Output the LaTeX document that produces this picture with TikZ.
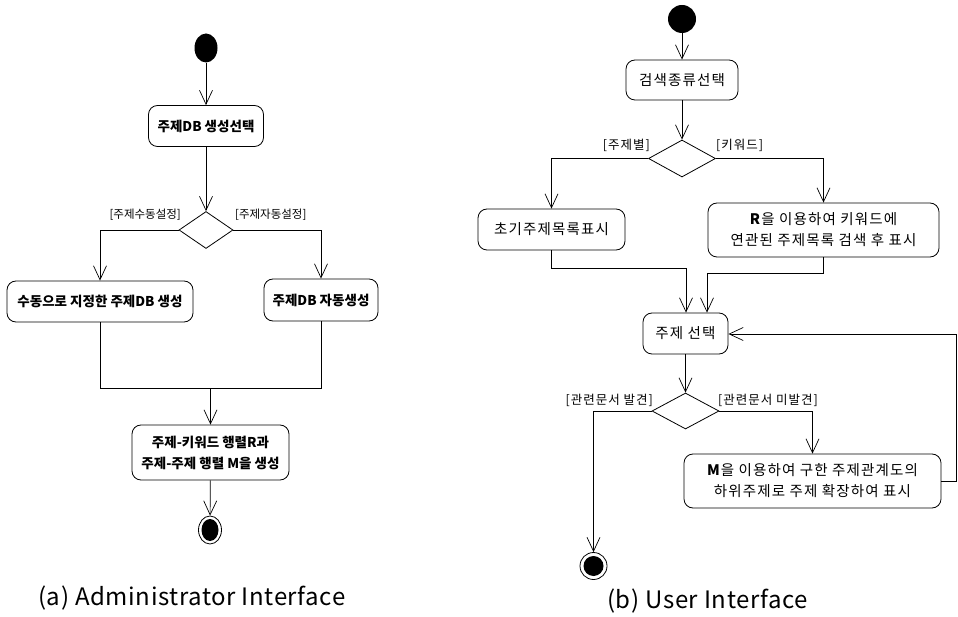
\documentclass[tikz,border=0pt]{standalone}
\usepackage{fontspec}
\setmainfont{Noto Sans CJK KR}
\newfontfamily\krwide{Noto Sans CJK KR}[LetterSpace=8]
\newfontfamily\capfont{Noto Sans CJK KR}[LetterSpace=2.5]
\usetikzlibrary{arrows.meta,shapes.geometric}

\begin{document}
\begin{tikzpicture}[x=1pt,y=-1pt,
  act/.style={draw, line width=0.8pt, rounded corners=9pt, align=center, inner sep=0pt},
  actA/.style={act, font=\bfseries\fontsize{13.5}{21}\selectfont},
  actB/.style={act, font=\krwide\fontsize{14.5}{21}\selectfont},
  startnode/.style={fill=black, inner sep=0pt},
  endring/.style={draw, line width=0.8pt, fill=white, inner sep=0pt},
  endcore/.style={fill=black, inner sep=0pt},
  decision/.style={draw, line width=0.8pt, diamond, inner sep=0pt},
  flow/.style={draw, line width=0.7pt, -{Straight Barb[length=14pt,width=13pt,line width=0.7pt]}},
  joinline/.style={draw, line width=0.7pt},
  guardA/.style={font=\fontsize{11.5}{13}\selectfont, inner sep=0pt},
  guardB/.style={font=\krwide\fontsize{12.5}{14}\selectfont, inner sep=0pt},
  caption/.style={font=\capfont\fontsize{24}{26}\selectfont, inner sep=0pt}
]
\useasboundingbox (0,0) rectangle (958,617);

% ---------- (a) administrator flow ----------
\node[startnode, ellipse, minimum width=23, minimum height=29] (a0) at (206,48) {};
\node[actA, minimum width=115, minimum height=41] (a1) at (206,126) {주제DB 생성선택};
\node[decision, minimum width=54, minimum height=37] (ad) at (206,230) {};
\node[actA, minimum width=186, minimum height=41] (a2) at (100,301.5) {수동으로 지정한 주제DB 생성};
\node[actA, minimum width=114, minimum height=42] (a3) at (321,300) {주제DB 자동생성};
\node[actA, minimum width=157, minimum height=55] (a4) at (210.5,452.5) {주제-키워드 행렬R과\\주제-주제 행렬 M을 생성};
\node[endring, ellipse, minimum width=23, minimum height=28] (ae) at (210,530) {};
\node[endcore, ellipse, minimum width=17, minimum height=22] (ae-core) at (ae.center) {};

\node[guardA, anchor=base east] (ga1) at (181,219) {[주제수동설정]};
\node[guardA, anchor=base west] (ga2) at (235,219) {[주제자동설정]};

\draw[flow] (a0) -- (a1);
\draw[flow] (a1) -- (ad);
\draw[flow] (ad.west) -| (a2.north);
\draw[flow] (ad.east) -| (a3.north);
\coordinate (aj) at (210.5,388);
\draw[joinline] (a2.south) |- (a3.south |- aj) -- (a3.south);
\draw[flow] (aj) -- (a4.north);
\draw[flow] (a4) -- (ae);

\node[caption, anchor=base west] (capa) at (38,605) {(a) Administrator Interface};

% ---------- (b) user flow ----------
\node[startnode, circle, minimum size=28] (b0) at (682,19) {};
\node[actB, minimum width=112, minimum height=40] (b1) at (682,80) {검색종류선택};
\node[decision, minimum width=67, minimum height=37] (bd) at (682,158.5) {};
\node[actB, minimum width=147, minimum height=41] (b2) at (551.5,229.5) {초기주제목록표시};
\node[actB, minimum width=231, minimum height=54] (b3) at (823.5,230) {\textbf{R}을 이용하여 키워드에\\연관된 주제목록 검색 후 표시};
\node[actB, minimum width=85, minimum height=41] (b4) at (685.5,333.5) {주제 선택};
\node[decision, minimum width=67, minimum height=36] (bd2) at (685.5,411) {};
\node[actB, minimum width=257, minimum height=54] (b5) at (812.5,481) {\textbf{M}을 이용하여 구한 주제관계도의\\하위주제로 주제 확장하여 표시};
\node[endring, circle, minimum size=27] (be) at (593.5,566) {};
\node[endcore, circle, minimum size=20] (be-core) at (be.center) {};

\node[guardB, anchor=base east] (gb1) at (650,150) {[주제별]};
\node[guardB, anchor=base west] (gb2) at (716,150) {[키워드]};
\node[guardB, anchor=base east] (gb3) at (653,404) {[관련문서 발견]};
\node[guardB, anchor=base west] (gb4) at (718,404) {[관련문서 미발견]};

\draw[flow] (b0) -- (b1);
\draw[flow] (b1) -- (bd);
\draw[flow] (bd.west) -| (b2.north);
\draw[flow] (bd.east) -| (b3.north);
\coordinate (bj1) at (686,268);
\coordinate (bj2) at (707,273);
\draw[flow] (b2.south) |- (bj1) -- (bj1 |- b4.north);
\draw[flow] (b3.south) |- (bj2) -- (bj2 |- b4.north);
\draw[flow] (b4) -- (bd2);
\draw[flow] (bd2.west) -| (be.north);
\draw[flow] (bd2.east) -| (b5.north);
\coordinate (bl) at (956.5,334);
\draw[flow] (b5.east) -| (bl) -- (bl -| b4.east);

\node[caption, anchor=base west] (capb) at (607,608) {(b) User Interface};
\end{tikzpicture}
\end{document}
